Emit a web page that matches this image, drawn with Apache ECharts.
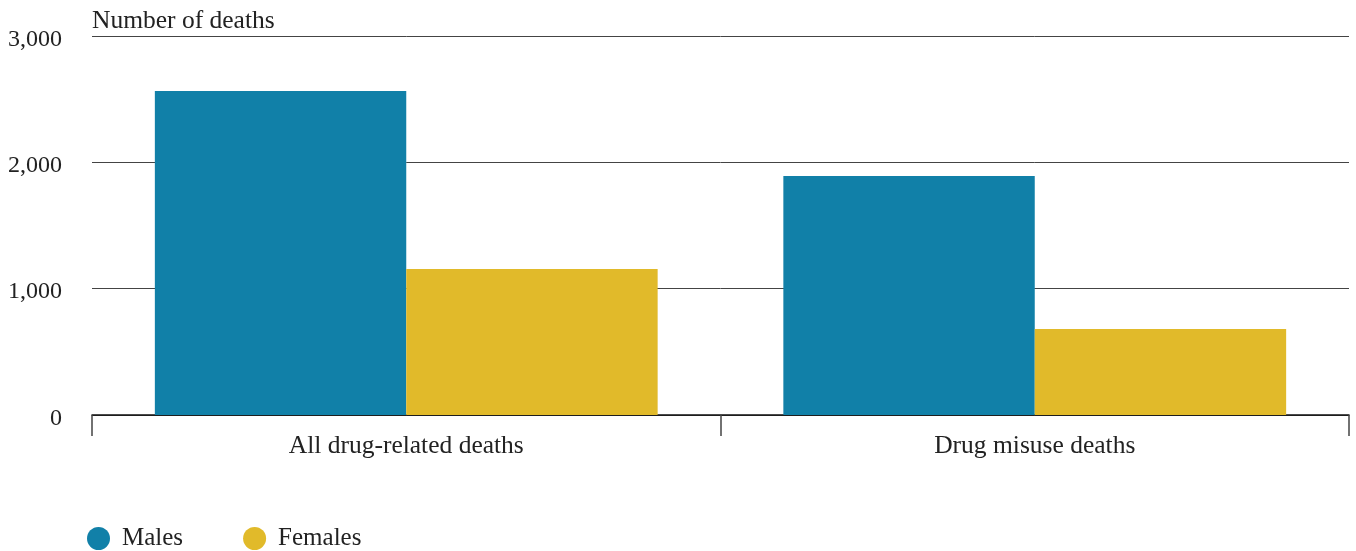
<!DOCTYPE html>
<html>
<head>
<meta charset="utf-8">
<script src="https://cdn.jsdelivr.net/npm/echarts@6/dist/echarts.min.js"></script>
<style>
html,body{margin:0;padding:0;background:#fff;}
#chart{width:1356px;height:551px;}
</style>
</head>
<body>
<div id="chart"></div>
<script>
const categories = ['All drug-related deaths', 'Drug misuse deaths'];
const males = [2565, 1892];
const females = [1156, 681];
const yTicks = [0, 1000, 2000, 3000];
const seriesNames = ['Males', 'Females'];
const yAxisTitle = 'Number of deaths';

const FONT = '"Liberation Serif", "DejaVu Serif", serif';
const chart = echarts.init(document.getElementById('chart'));
chart.setOption({
  animation: false,
  textStyle: { fontFamily: FONT },
  grid: { left: 92, right: 7, top: 36, bottom: 136, containLabel: false },
  legend: {
    data: seriesNames,
    left: 87, top: 526, padding: 0,
    icon: 'circle', itemWidth: 23, itemHeight: 23, itemGap: 60,
    textStyle: { fontFamily: FONT, fontSize: 25, color: '#222', padding: [2,0,0,7] }
  },
  xAxis: {
    type: 'category',
    data: categories,
    axisLine: { lineStyle: { color: '#111', width: 1.5 } },
    axisTick: { show: true, length: 21, lineStyle: { color: '#444', width: 1.5 } },
    axisLabel: { fontFamily: FONT, fontSize: 25.5, color: '#222', margin: 18 }
  },
  yAxis: {
    type: 'value',
    min: yTicks[0], max: yTicks[yTicks.length - 1], interval: 1000,
    name: yAxisTitle,
    nameLocation: 'end',
    nameGap: 2,
    nameTextStyle: { fontFamily: FONT, fontSize: 25.5, color: '#222', align: 'left', verticalAlign: 'bottom' },
    axisLine: { show: false },
    axisTick: { show: false },
    axisLabel: {
      fontFamily: FONT, fontSize: 24, color: '#222', margin: 30,
      formatter: v => '{t|' + v.toLocaleString('en-US') + '}',
      rich: { t: { fontFamily: FONT, fontSize: 24, color: '#222', padding: [7, 0, 0, 0] } }
    },
    splitLine: { lineStyle: { color: '#444', width: 1 } }
  },
  series: [
    { name: seriesNames[0], type: 'bar', data: males, barGap: 0, barCategoryGap: '20%',
      itemStyle: { color: '#1180A8' } },
    { name: seriesNames[1], type: 'bar', data: females, barGap: 0, barCategoryGap: '20%',
      itemStyle: { color: '#E1BA2A' } }
  ]
});
</script>
</body>
</html>
